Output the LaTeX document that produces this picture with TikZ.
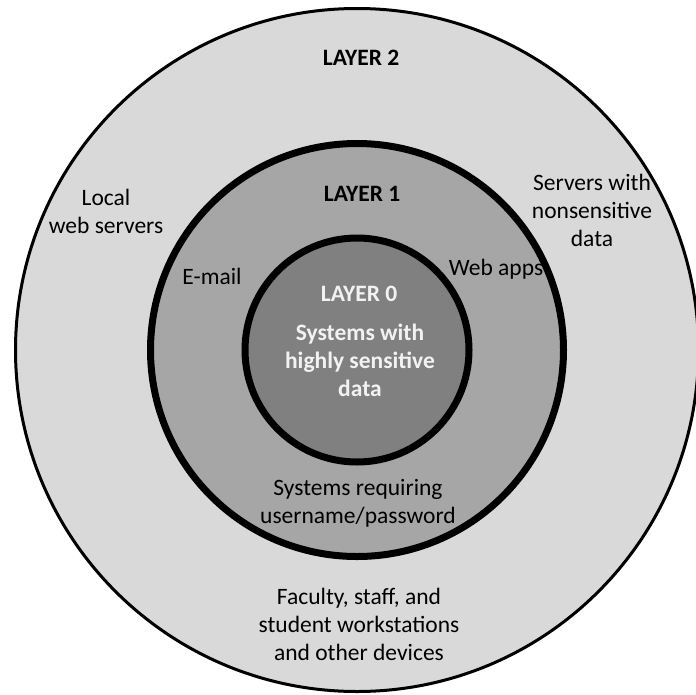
\documentclass[tikz,border=0pt]{standalone}
\usepackage{fontspec}
\setmainfont{Carlito}
\begin{document}
\begin{tikzpicture}[x=1pt,y=-1pt,
  ring/.style={draw=black},
  lbl/.style={align=center,inner sep=0pt,font=\fontsize{23.5}{28}\selectfont},
  title/.style={lbl,font=\fontsize{23.5}{28}\selectfont\bfseries},
  inv/.style={title,text=white!95!black}]
\useasboundingbox (0,0) rectangle (696,694);
\clip (0,0) rectangle (696,694);
% three nested security layers
\filldraw[ring,fill=black!15,line width=3pt] (357,350) circle[radius=341.5pt];
\filldraw[ring,fill=black!35,line width=7pt] (357,350) circle[radius=206.5pt];
\filldraw[ring,fill=black!50,line width=7pt] (357,350) circle[radius=112pt];
% layer captions
\node[title] (layer2) at (361,58) {LAYER 2};
\node[title] (layer1) at (362,194) {LAYER 1};
\node[inv] (layer0) at (359,294) {LAYER 0};
\node[inv] (sens) at (360,360) {Systems with\\highly sensitive\\data};
% what lives in each layer
\node[lbl] (local) at (106,211) {Local\\web servers};
\node[lbl] (servers) at (592,210) {Servers with\\nonsensitive\\data};
\node[lbl] (email) at (212,276) {E-mail};
\node[lbl] (webapps) at (496,269) {Web apps};
\node[lbl] (login) at (358,503) {Systems requiring\\username/password};
\node[lbl] (devices) at (359,624) {Faculty, staff, and\\student workstations\\and other devices};
\end{tikzpicture}
\end{document}
